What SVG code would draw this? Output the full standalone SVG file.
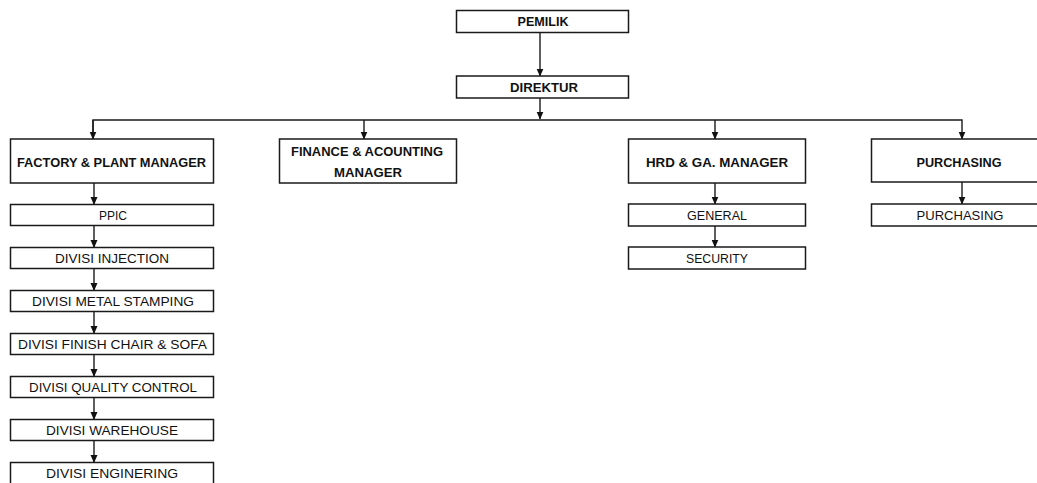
<svg xmlns="http://www.w3.org/2000/svg" width="1037" height="483" viewBox="0 0 1037 483">
<defs>
<style>
.box{fill:#fff;stroke:#1a1a1a;stroke-width:1.5}
.t{font-family:"Liberation Sans",Arial,sans-serif;font-size:13.5px;fill:#111;text-anchor:middle;dominant-baseline:central}
.b{font-weight:bold;font-size:13px}
.ln{fill:none;stroke:#1a1a1a;stroke-width:1.4}
</style>
<marker id="ah" markerWidth="8" markerHeight="8" viewBox="0 0 8 8" refX="7.5" refY="4" orient="auto" markerUnits="userSpaceOnUse">
<path d="M0,0.5 L8,4 L0,7.5 Z" fill="#111"/>
</marker>
</defs>
<rect width="1037" height="483" fill="#fff"/>
<g id="connectors">
<path class="ln" d="M540,32 V76" marker-end="url(#ah)"/>
<path class="ln" d="M540,98 V119" marker-end="url(#ah)"/>
<path class="ln" d="M93,139 V120 H962 V139" marker-end="url(#ah)"/>
<path class="ln" d="M93,120 V139" marker-end="url(#ah)"/>
<path class="ln" d="M364,120 V139" marker-end="url(#ah)"/>
<path class="ln" d="M715,120 V139" marker-end="url(#ah)"/>
<path class="ln" d="M94,183 V204.5" marker-end="url(#ah)"/>
<path class="ln" d="M94,225.5 V247.5" marker-end="url(#ah)"/>
<path class="ln" d="M94,268.5 V290.5" marker-end="url(#ah)"/>
<path class="ln" d="M94,311.5 V333.5" marker-end="url(#ah)"/>
<path class="ln" d="M94,354.5 V376.5" marker-end="url(#ah)"/>
<path class="ln" d="M94,397.5 V419.5" marker-end="url(#ah)"/>
<path class="ln" d="M94,440.5 V462.5" marker-end="url(#ah)"/>
<path class="ln" d="M715,183 V204" marker-end="url(#ah)"/>
<path class="ln" d="M715,226 V247" marker-end="url(#ah)"/>
<path class="ln" d="M962,182 V204" marker-end="url(#ah)"/>
</g>
<g id="pemilik"><rect class="box" x="456.5" y="10.5" width="172" height="22"/><text class="t b" x="543" y="21.5" textLength="51" lengthAdjust="spacingAndGlyphs">PEMILIK</text></g>
<g id="direktur"><rect class="box" x="456.5" y="76" width="172" height="22"/><text class="t b" x="544" y="87" textLength="68" lengthAdjust="spacingAndGlyphs">DIREKTUR</text></g>
<g id="factory"><rect class="box" x="10.5" y="139" width="203" height="44"/><text class="t b" x="111.5" y="162" textLength="189" lengthAdjust="spacingAndGlyphs">FACTORY &amp; PLANT MANAGER</text></g>
<g id="finance"><rect class="box" x="279.5" y="139" width="177" height="44"/><text class="t b" x="367" y="151.5" textLength="152" lengthAdjust="spacingAndGlyphs">FINANCE &amp; ACOUNTING</text><text class="t b" x="368" y="172.5" textLength="68" lengthAdjust="spacingAndGlyphs">MANAGER</text></g>
<g id="hrd"><rect class="box" x="628.5" y="139" width="177" height="44"/><text class="t b" x="717" y="162" textLength="142" lengthAdjust="spacingAndGlyphs">HRD &amp; GA. MANAGER</text></g>
<g id="purchasing"><rect class="box" x="871.5" y="139" width="180" height="43"/><text class="t b" x="959" y="162" textLength="85" lengthAdjust="spacingAndGlyphs">PURCHASING</text></g>
<g id="ppic"><rect class="box" x="10.5" y="204.5" width="203" height="21"/><text class="t" x="113" y="215" textLength="28" lengthAdjust="spacingAndGlyphs">PPIC</text></g>
<g id="injection"><rect class="box" x="10.5" y="247.5" width="203" height="21"/><text class="t" x="112" y="258" textLength="114" lengthAdjust="spacingAndGlyphs">DIVISI INJECTION</text></g>
<g id="metal"><rect class="box" x="10.5" y="290.5" width="203" height="21"/><text class="t" x="113" y="301" textLength="162" lengthAdjust="spacingAndGlyphs">DIVISI METAL STAMPING</text></g>
<g id="finish"><rect class="box" x="10.5" y="333.5" width="203" height="21"/><text class="t" x="112.5" y="344" textLength="189" lengthAdjust="spacingAndGlyphs">DIVISI FINISH CHAIR &amp; SOFA</text></g>
<g id="qc"><rect class="box" x="10.5" y="376.5" width="203" height="21"/><text class="t" x="113" y="387" textLength="168" lengthAdjust="spacingAndGlyphs">DIVISI QUALITY CONTROL</text></g>
<g id="warehouse"><rect class="box" x="10.5" y="419.5" width="203" height="21"/><text class="t" x="112" y="430" textLength="132" lengthAdjust="spacingAndGlyphs">DIVISI WAREHOUSE</text></g>
<g id="engineering"><rect class="box" x="10.5" y="462.5" width="203" height="24"/><text class="t" x="112" y="473" textLength="132" lengthAdjust="spacingAndGlyphs">DIVISI ENGINERING</text></g>
<g id="general"><rect class="box" x="628.5" y="204" width="177" height="22"/><text class="t" x="717" y="215" textLength="60" lengthAdjust="spacingAndGlyphs">GENERAL</text></g>
<g id="security"><rect class="box" x="628.5" y="247" width="177" height="22"/><text class="t" x="717" y="258" textLength="62" lengthAdjust="spacingAndGlyphs">SECURITY</text></g>
<g id="purchasing-sub"><rect class="box" x="871.5" y="204" width="180" height="22"/><text class="t" x="960" y="215" textLength="87" lengthAdjust="spacingAndGlyphs">PURCHASING</text></g>
</svg>
